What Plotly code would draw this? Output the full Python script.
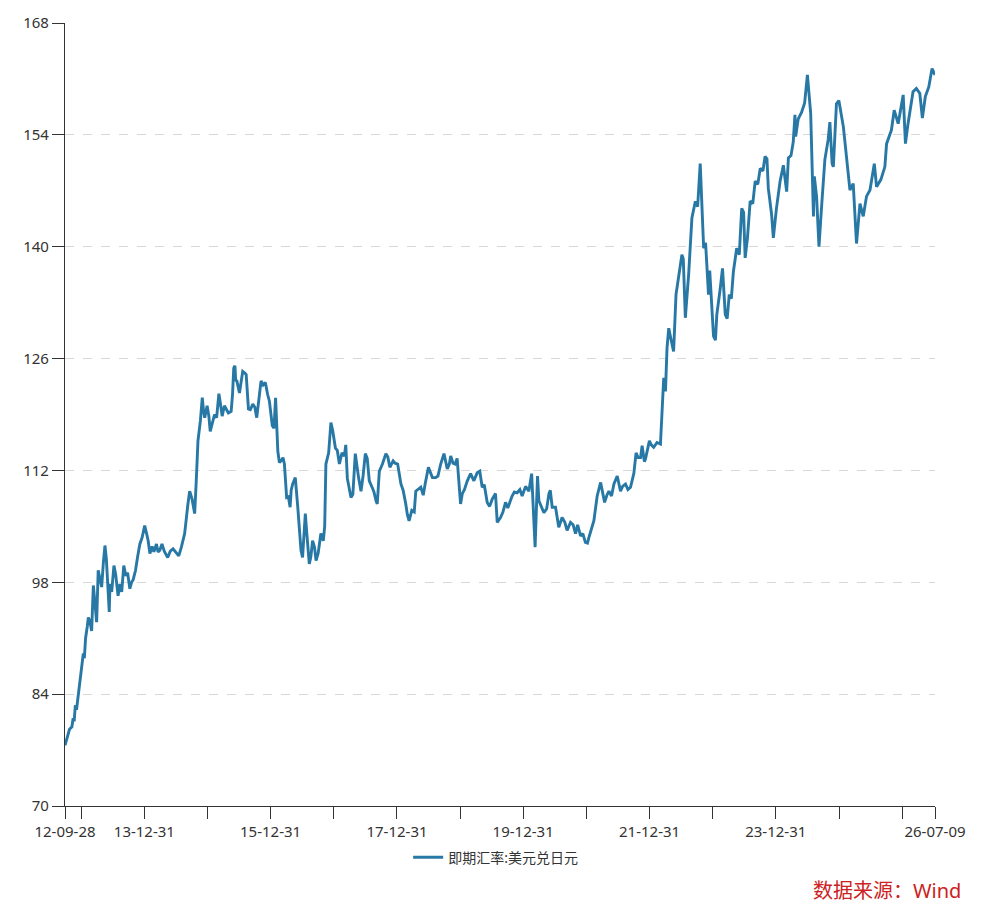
import plotly.graph_objects as go

series_name = "即期汇率:美元兑日元"

dates = [
"2012-09-28","2012-10-12","2012-10-24","2012-11-07","2012-11-14","2012-11-20","2012-11-26","2012-12-05","2012-12-14","2012-12-24",
"2013-01-04","2013-01-12","2013-01-18","2013-01-25","2013-02-04","2013-02-10","2013-02-20","2013-03-01","2013-03-11","2013-03-20",
"2013-03-30","2013-04-08","2013-04-18","2013-04-28","2013-05-08","2013-05-17","2013-05-25","2013-06-04","2013-06-11","2013-06-15",
"2013-06-25","2013-07-08","2013-07-18","2013-08-01","2013-08-12","2013-08-22","2013-09-03","2013-09-15","2013-09-25","2013-10-08",
"2013-10-18","2013-10-27","2013-11-10","2013-11-22","2013-12-05","2013-12-18","2014-01-02","2014-01-14","2014-01-22","2014-02-01",
"2014-02-14","2014-02-24","2014-03-11","2014-03-20","2014-03-30","2014-04-12","2014-04-25","2014-05-15","2014-05-30","2014-06-15",
"2014-07-04","2014-07-18","2014-08-02","2014-08-21","2014-09-09","2014-09-19","2014-10-03","2014-10-18","2014-10-28","2014-11-06",
"2014-11-20","2014-12-01","2014-12-08","2014-12-15","2014-12-29","2015-01-08","2015-01-16","2015-01-28","2015-02-10","2015-02-22",
"2015-03-07","2015-03-15","2015-03-26","2015-04-08","2015-04-18","2015-05-01","2015-05-17","2015-05-25","2015-06-01","2015-06-08",
"2015-06-12","2015-06-19","2015-07-04","2015-07-14","2015-07-23","2015-08-04","2015-08-12","2015-08-25","2015-09-05","2015-09-19",
"2015-10-01","2015-10-12","2015-10-22","2015-11-06","2015-11-18","2015-12-01","2015-12-14","2015-12-24","2016-01-10","2016-01-20",
"2016-01-29","2016-02-11","2016-02-20","2016-03-01","2016-03-12","2016-03-20","2016-04-02","2016-04-12","2016-04-22","2016-04-28",
"2016-05-07","2016-05-22","2016-06-05","2016-06-18","2016-06-24","2016-07-03","2016-07-19","2016-07-28","2016-08-11","2016-08-20",
"2016-08-30","2016-09-10","2016-09-19","2016-10-01","2016-10-17","2016-10-31","2016-11-08","2016-11-15","2016-12-01","2016-12-14",
"2016-12-25","2017-01-09","2017-01-20","2017-02-01","2017-02-16","2017-03-02","2017-03-10","2017-03-19","2017-04-09","2017-04-20",
"2017-05-04","2017-05-23","2017-06-06","2017-06-18","2017-07-01","2017-07-12","2017-07-24","2017-08-11","2017-08-20","2017-09-01",
"2017-09-08","2017-09-20","2017-10-08","2017-10-28","2017-11-08","2017-11-20","2017-12-09","2017-12-20","2018-01-04","2018-01-23",
"2018-02-05","2018-02-20","2018-03-01","2018-03-11","2018-03-27","2018-04-10","2018-04-19","2018-05-18","2018-06-01","2018-06-12",
"2018-07-01","2018-07-24","2018-08-12","2018-08-25","2018-09-10","2018-09-29","2018-10-18","2018-10-30","2018-11-07","2018-11-20",
"2018-12-02","2018-12-14","2018-12-26","2019-01-03","2019-01-13","2019-01-25","2019-02-11","2019-03-02","2019-03-21","2019-04-09",
"2019-04-24","2019-05-08","2019-05-20","2019-06-06","2019-06-20","2019-07-05","2019-07-24","2019-08-03","2019-08-22","2019-09-05",
"2019-09-20","2019-10-03","2019-10-28","2019-11-10","2019-11-26","2019-12-12","2019-12-25","2020-01-14","2020-02-02","2020-02-18",
"2020-03-09","2020-03-23","2020-03-31","2020-04-15","2020-04-29","2020-05-15","2020-05-28","2020-06-05","2020-06-16","2020-07-05",
"2020-07-24","2020-08-12","2020-08-28","2020-09-10","2020-09-30","2020-10-15","2020-10-29","2020-11-10","2020-11-27","2020-12-10",
"2020-12-25","2021-01-06","2021-01-14","2021-02-12","2021-03-03","2021-03-23","2021-04-15","2021-04-28","2021-05-10","2021-05-25",
"2021-06-08","2021-06-27","2021-07-16","2021-07-28","2021-08-14","2021-08-28","2021-09-12","2021-10-01","2021-10-14","2021-10-26",
"2021-11-09","2021-11-18","2021-12-01","2021-12-07","2021-12-30","2022-01-10","2022-01-24","2022-02-12","2022-03-04","2022-03-23",
"2022-04-02","2022-04-11","2022-04-21","2022-05-06","2022-05-19","2022-06-02","2022-06-17","2022-07-06","2022-07-14","2022-07-26",
"2022-08-14","2022-09-02","2022-09-22","2022-10-05","2022-10-20","2022-10-26","2022-11-09","2022-11-20","2022-11-28","2022-12-07",
"2022-12-14","2022-12-26","2023-01-05","2023-01-16","2023-01-24","2023-02-13","2023-02-26","2023-03-14","2023-03-25","2023-04-06",
"2023-04-18","2023-04-30","2023-05-19","2023-06-03","2023-06-17","2023-06-28","2023-07-07","2023-07-20","2023-08-05","2023-08-20",
"2023-09-03","2023-09-18","2023-10-02","2023-10-18","2023-10-30","2023-11-10","2023-11-18","2023-12-07","2023-12-17","2024-01-04",
"2024-01-25","2024-02-13","2024-03-03","2024-03-13","2024-03-28","2024-04-10","2024-04-20","2024-04-24","2024-05-09","2024-05-28",
"2024-06-15","2024-07-01","2024-07-20","2024-08-05","2024-08-10","2024-08-23","2024-09-06","2024-09-21","2024-10-10","2024-10-29",
"2024-11-08","2024-11-21","2024-11-28","2024-12-16","2024-12-30","2025-01-25","2025-02-18","2025-03-04","2025-03-23","2025-04-11",
"2025-05-01","2025-05-20","2025-06-08","2025-06-28","2025-07-23","2025-08-05","2025-08-30","2025-09-22","2025-10-02","2025-10-30",
"2025-11-15","2025-12-08","2026-01-06","2026-01-19","2026-02-03","2026-03-04","2026-03-23","2026-04-12","2026-04-27","2026-05-14",
"2026-06-03","2026-06-22","2026-07-09",
]

usd_jpy = [
77.6,78.6,79.6,79.9,81.0,80.6,82.4,82.3,83.9,85.0,
87.5,89.1,88.5,91.0,92.5,93.6,93.0,91.9,97.6,95.5,
93.0,99.5,98.6,97.4,100.5,102.6,101.0,97.5,94.3,97.8,
96.8,100.1,99.0,96.3,97.8,96.8,100.1,98.8,99.2,97.2,
98.0,98.3,99.5,101.2,102.8,103.6,105.1,104.0,103.2,101.6,
102.5,101.8,102.8,101.8,102.0,102.8,101.9,101.1,101.9,102.2,
101.7,101.3,102.4,104.1,107.8,109.4,108.4,106.6,111.1,115.7,
118.2,121.1,119.5,118.6,120.1,118.8,116.9,118.0,119.0,118.6,
121.6,120.5,118.8,120.1,119.7,119.2,119.4,121.5,124.8,125.1,
123.3,123.2,121.7,123.5,124.4,124.2,124.0,119.7,119.6,120.3,
119.9,118.6,120.8,123.2,122.7,123.0,121.5,120.7,117.6,117.3,
121.1,114.4,113.0,113.2,113.6,112.8,108.6,108.7,107.4,109.5,
110.3,111.1,107.5,104.1,102.0,101.1,106.6,104.0,100.3,101.2,
103.2,102.4,100.7,101.6,104.1,103.2,105.0,112.8,114.2,118.0,
116.9,114.8,114.5,112.8,114.2,113.8,115.2,111.0,108.6,109.0,
114.1,111.1,109.4,111.3,114.1,113.5,110.7,109.8,109.3,108.2,
107.8,111.9,112.8,114.1,113.7,112.4,113.2,112.9,112.8,110.3,
109.5,107.8,106.5,105.7,107.0,106.8,109.4,109.9,108.9,110.3,
112.4,111.1,111.1,111.3,112.8,114.1,112.2,112.8,113.8,112.9,
112.8,113.5,110.5,107.8,109.1,109.6,110.7,111.6,110.7,111.7,
111.9,109.9,110.2,108.0,107.5,108.4,109.1,105.5,106.1,106.8,
108.0,107.3,108.8,109.3,109.2,109.6,108.8,110.0,109.4,111.6,
102.4,111.3,108.2,107.5,106.7,107.2,109.1,109.5,107.4,107.4,
104.9,106.1,105.5,104.5,105.5,105.2,104.1,105.2,103.8,104.1,
103.0,102.9,103.6,105.7,108.8,110.5,108.0,108.9,109.4,108.8,
110.3,111.3,109.4,110.0,110.3,109.6,109.9,111.6,114.2,113.6,
113.6,115.1,113.1,113.4,115.7,115.2,114.9,115.5,115.3,123.6,
121.9,127.3,129.8,128.2,126.9,134.0,136.1,139.0,138.5,131.1,
136.5,143.6,145.7,145.0,150.4,146.5,139.8,140.5,136.5,134.0,
137.0,131.5,128.8,128.3,131.5,134.8,137.3,131.5,131.0,134.0,
133.5,136.9,139.8,139.0,144.8,144.3,138.6,141.0,145.7,145.4,
148.2,147.8,149.8,149.5,151.3,151.0,147.3,144.0,141.1,144.8,
148.2,150.2,146.9,151.1,151.4,153.1,156.5,153.8,156.0,156.8,
158.0,161.5,156.7,143.8,148.8,146.3,140.0,145.0,150.9,153.4,
155.6,150.4,150.0,157.9,158.3,155.0,150.0,147.1,147.9,140.4,
145.4,143.8,146.3,147.1,150.4,147.5,148.4,150.0,152.9,154.6,
157.1,155.4,159.0,152.9,155.4,159.4,159.8,159.2,156.1,158.8,
160.0,162.3,161.5,
]

y_ticks = [70, 84, 98, 112, 126, 140, 154, 168]

x_tick_dates = ["2012-09-28","2012-12-31","2013-12-31","2014-12-31","2015-12-31","2016-12-31",
                "2017-12-31","2018-12-31","2019-12-31","2020-12-31","2021-12-31","2022-12-31",
                "2023-12-31","2024-12-31","2025-12-31","2026-07-09"]
x_tick_labels = ["12-09-28","","13-12-31","","15-12-31","","17-12-31","","19-12-31","",
                 "21-12-31","","23-12-31","","","26-07-09"]

source_text = "数据来源：Wind"

FONT = "Noto Sans, Noto Sans CJK SC, sans-serif"
LINE_COLOR = "#2878a6"
AXIS_COLOR = "#333333"

fig = go.Figure()
fig.add_trace(go.Scatter(
    x=dates, y=usd_jpy, mode="lines", name=series_name,
    line=dict(color=LINE_COLOR, width=2.9),
))

fig.update_layout(
    width=1000, height=920,
    margin=dict(l=65, r=65, t=21, b=114),
    paper_bgcolor="white", plot_bgcolor="white",
    font=dict(family=FONT, size=15, color=AXIS_COLOR),
    showlegend=True,
    legend=dict(orientation="h", x=0.495, xanchor="center", y=-0.066, yanchor="middle",
                font=dict(family=FONT, size=14, color=AXIS_COLOR), itemwidth=30),
    annotations=[dict(
        text=source_text, xref="paper", yref="paper",
        x=1.032, xanchor="right", y=-0.108, yanchor="middle",
        showarrow=False, font=dict(family=FONT, size=20, color="#cc2222"),
    )],
)

fig.update_xaxes(
    type="date", range=["2012-09-28", "2026-07-09"],
    tickmode="array", tickvals=x_tick_dates, ticktext=x_tick_labels,
    ticks="outside", ticklen=12, tickwidth=1.2, tickcolor=AXIS_COLOR,
    showline=True, linecolor=AXIS_COLOR, linewidth=1.2,
    showgrid=False, zeroline=False,
    tickfont=dict(family=FONT, size=15, color=AXIS_COLOR),
)
fig.update_yaxes(
    range=[70, 168], tickmode="array", tickvals=y_ticks,
    ticks="outside", ticklen=12, tickwidth=1.2, tickcolor=AXIS_COLOR,
    showline=True, linecolor=AXIS_COLOR, linewidth=1.2,
    showgrid=True, gridcolor="#d8d8d8", gridwidth=1, griddash="dash",
    zeroline=False,
    tickfont=dict(family=FONT, size=15, color=AXIS_COLOR),
)

fig.write_html("out.html")
